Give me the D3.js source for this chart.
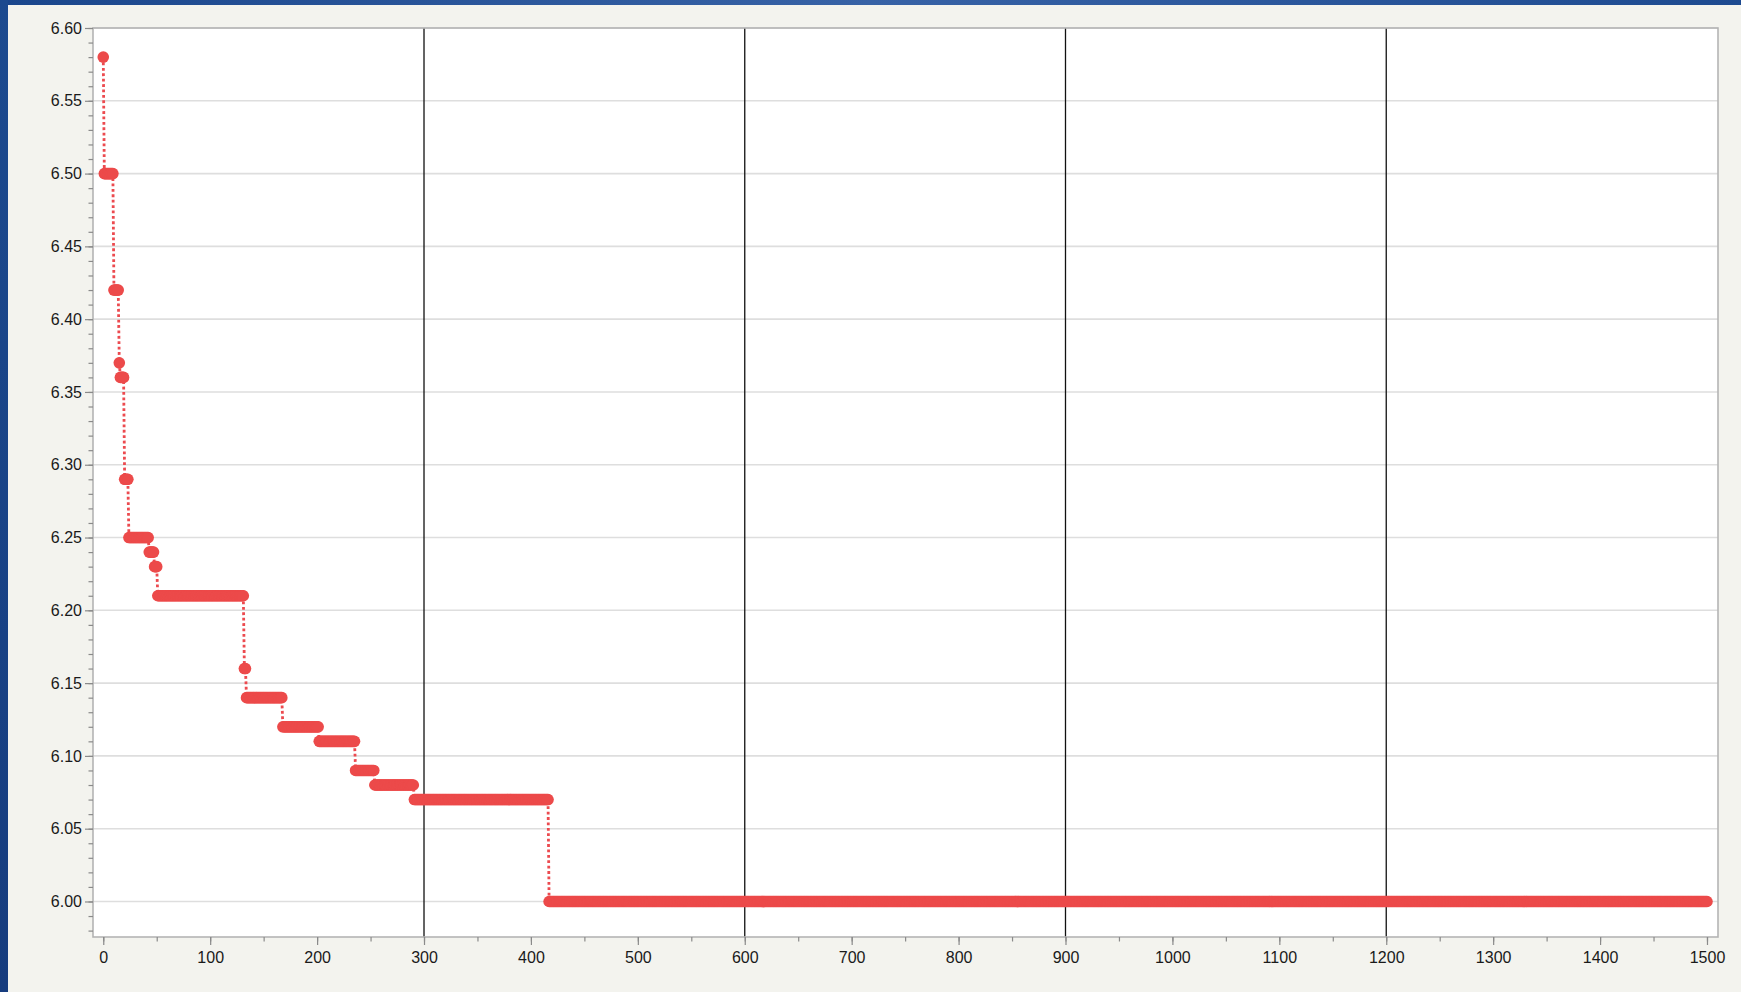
<!DOCTYPE html>
<html>
<head>
<meta charset="utf-8">
<script src="https://cdn.jsdelivr.net/npm/d3@7"></script>
<style>
  html, body { margin: 0; padding: 0; background: #f3f3ee; }
  svg { display: block; }
  text { font-family: "Liberation Sans", Arial, Helvetica, sans-serif; }
</style>
</head>
<body>
<script>
// ---- data (step series: value holds from stepStart[i] to the next start - 1) ----
const stepStart = [0, 1, 10, 15, 16, 20, 24, 43, 48, 51, 132, 134, 168, 202, 236, 254, 291, 417];
const stepValue = [6.58, 6.50, 6.42, 6.37, 6.36, 6.29, 6.25, 6.24, 6.23, 6.21, 6.16, 6.14, 6.12, 6.11, 6.09, 6.08, 6.07, 6.00];
const lastIteration = 1500;
const xTickValues = [0, 100, 200, 300, 400, 500, 600, 700, 800, 900, 1000, 1100, 1200, 1300, 1400, 1500];
const yTickValues = [6.00, 6.05, 6.10, 6.15, 6.20, 6.25, 6.30, 6.35, 6.40, 6.45, 6.50, 6.55, 6.60];
const refLines = [300, 600, 900, 1200];

// expand run-length steps into one point per iteration
const points = [];
stepStart.forEach((s, i) => {
  const e = i + 1 < stepStart.length ? stepStart[i + 1] - 1 : lastIteration;
  for (let k = s; k <= e; k++) points.push({ x: k, y: stepValue[i] });
});

const W = 1741, H = 992;
const plot = { left: 93, right: 1718, top: 28, bottom: 937 };

const svg = d3.select("body").append("svg").attr("width", W).attr("height", H);
const defs = svg.append("defs");
const gTop = defs.append("linearGradient").attr("id", "gTop").attr("x1", 0).attr("x2", 1).attr("y1", 0).attr("y2", 0);
gTop.append("stop").attr("offset", 0).attr("stop-color", "#1a468c");
gTop.append("stop").attr("offset", 0.5).attr("stop-color", "#3762a6");
gTop.append("stop").attr("offset", 1).attr("stop-color", "#1d4a90");
const gLeft = defs.append("linearGradient").attr("id", "gLeft").attr("x1", 0).attr("x2", 0).attr("y1", 0).attr("y2", 1);
gLeft.append("stop").attr("offset", 0).attr("stop-color", "#1c4a8f");
gLeft.append("stop").attr("offset", 1).attr("stop-color", "#163c7e");

// panel
svg.append("rect").attr("x", 0).attr("y", 0).attr("width", W).attr("height", H).attr("fill", "#f3f3ee");
svg.append("rect").attr("x", 0).attr("y", 0).attr("width", W).attr("height", 5).attr("fill", "url(#gTop)");
svg.append("rect").attr("x", 0).attr("y", 0).attr("width", 8).attr("height", H).attr("fill", "url(#gLeft)");

const x = d3.scaleLinear().domain([-9.6, 1510.3]).range([plot.left, plot.right]);
const y = d3.scaleLinear().domain([5.9756, 6.60]).range([plot.bottom, plot.top]);

// plot background
svg.append("rect").attr("x", plot.left).attr("y", plot.top)
  .attr("width", plot.right - plot.left).attr("height", plot.bottom - plot.top).attr("fill", "#ffffff");

// horizontal gridlines
svg.append("g").selectAll("line").data(yTickValues).join("line")
  .attr("x1", plot.left).attr("x2", plot.right)
  .attr("y1", d => y(d)).attr("y2", d => y(d))
  .attr("stroke", "#dedede").attr("stroke-width", 1.6);

// vertical reference lines
svg.append("g").selectAll("line").data(refLines).join("line")
  .attr("x1", d => x(d)).attr("x2", d => x(d))
  .attr("y1", plot.top).attr("y2", plot.bottom)
  .attr("stroke", "#111").attr("stroke-width", 1.3);

// frame
svg.append("rect").attr("x", plot.left).attr("y", plot.top)
  .attr("width", plot.right - plot.left).attr("height", plot.bottom - plot.top)
  .attr("fill", "none").attr("stroke", "#b4b4b4").attr("stroke-width", 1.6);

// axes
const yMinor = d3.range(5.98, 6.6001, 0.01).map(v => +v.toFixed(2));
const xMinor = d3.range(0, 1501, 50);

const yAxisMinor = d3.axisLeft(y).tickValues(yMinor).tickSize(4.5).tickFormat("");
const yAxis = d3.axisLeft(y).tickValues(yTickValues).tickSize(8).tickPadding(3).tickFormat(d3.format(".2f"));
const xAxisMinor = d3.axisBottom(x).tickValues(xMinor).tickSize(4.5).tickFormat("");
const xAxis = d3.axisBottom(x).tickValues(xTickValues).tickSize(8).tickPadding(7).tickFormat(d3.format("d"));

function styleAxis(g) {
  g.select(".domain").remove();
  g.selectAll(".tick line").attr("stroke", "#8a8a8a").attr("stroke-width", 1.2);
  g.selectAll(".tick text").attr("fill", "#1a1a1a").attr("font-size", 16);
}
svg.append("g").attr("transform", `translate(${plot.left},0)`).call(yAxisMinor).call(styleAxis);
svg.append("g").attr("transform", `translate(${plot.left},0)`).call(yAxis).call(styleAxis);
svg.append("g").attr("transform", `translate(0,${plot.bottom})`).call(xAxisMinor).call(styleAxis);
svg.append("g").attr("transform", `translate(0,${plot.bottom})`).call(xAxis).call(styleAxis);

// series: dotted connecting line + markers
const line = d3.line().x(d => x(d.x)).y(d => y(d.y));
svg.append("path").datum(points).attr("d", line)
  .attr("fill", "none").attr("stroke", "#ec4a4f").attr("stroke-width", 2.8)
  .attr("stroke-dasharray", "2.8 2.6");

svg.append("g").selectAll("circle").data(points).join("circle")
  .attr("cx", d => x(d.x)).attr("cy", d => y(d.y)).attr("r", 5.8)
  .attr("fill", "#ec4a4a");
</script>
</body>
</html>
